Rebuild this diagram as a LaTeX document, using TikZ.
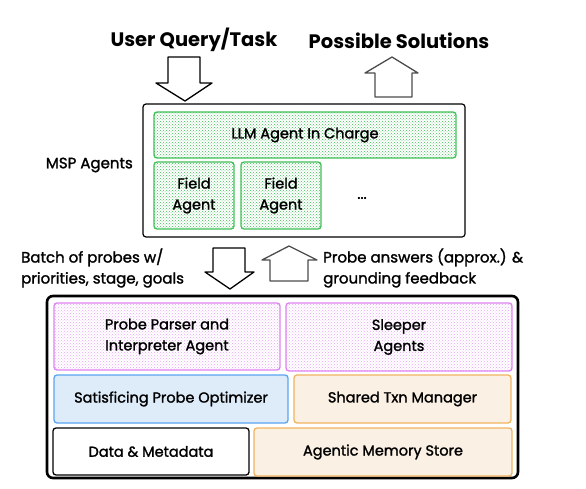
\documentclass[tikz,border=0pt]{standalone}
\usepackage{fontspec}
\setmainfont{Poppins}[UprightFeatures={FakeBold=1.5}]
\usetikzlibrary{patterns}
\usetikzlibrary{positioning}
\usepackage{xcolor}

\definecolor{agentgreen}{RGB}{64,192,87}
\definecolor{sleeppurple}{RGB}{222,130,240}
\definecolor{optblue}{RGB}{90,165,240}
\definecolor{optbluefill}{RGB}{222,235,249}
\definecolor{txnorange}{RGB}{240,180,95}
\definecolor{txnfill}{RGB}{250,240,228}

\tikzset{
 box/.style={draw, rounded corners=3pt, line width=1.3pt, align=center, inner sep=0pt,
   font=\fontsize{14.5}{21}\selectfont},
 greenbox/.style={box, draw=agentgreen, pattern=crosshatch dots, pattern color=agentgreen},
 purplebox/.style={box, draw=sleeppurple, pattern=crosshatch dots, pattern color=sleeppurple!70},
 bluebox/.style={box, draw=optblue, fill=optbluefill},
 orangebox/.style={box, draw=txnorange, fill=txnfill},
 plainbox/.style={box, draw=black},
 blockarrow/.style={line width=1.3pt, line join=round},
 label/.style={font=\fontsize{15}{21}\selectfont, align=left, inner sep=0pt},
 title/.style={font=\fontsize{19.5}{22}\selectfont\bfseries, inner sep=0pt}
}

\begin{document}
\begin{tikzpicture}[x=1pt, y=-1pt]
\useasboundingbox (0,0) rectangle (586,489);

% top titles and arrows
\node[title] (query) at (194,40) {User Query/Task};
\node[title] (solutions) at (399,41) {Possible Solutions};
\draw[blockarrow, black] (168,57) -- (200,57) -- (200,83) -- (212,83) -- (185,101)
  -- (156,83) -- (168,83) -- cycle;
\draw[blockarrow, black!70] (375,97) -- (375,73) -- (365,73) -- (392,57) -- (418,73)
  -- (412,73) -- (412,97) -- cycle;

% MSP agents
\node[box, draw=black, line width=1.2pt, minimum width=322pt, minimum height=133pt] (msp) at (304,170.5) {};
\node[label, anchor=east] (msplabel) at (133,165) {MSP Agents};
\node[greenbox, minimum width=302pt, minimum height=46pt] (llm) at (305,135) {LLM Agent In Charge};
\foreach \name/\cx in {fieldA/194, fieldB/281} {
 \node[greenbox, minimum width=80pt, minimum height=67pt] (\name) at (\cx,195.5) {Field\\Agent};
}
\node[label] (more) at (362,198) {...};

% middle arrows
\draw[blockarrow, black] (213,248) -- (245,248) -- (245,272) -- (254,272) -- (230,289)
  -- (205,272) -- (213,272) -- cycle;
\draw[blockarrow, black!70] (270,281) -- (270,260) -- (262,260) -- (289,246) -- (317,260)
  -- (308,260) -- (308,281) -- cycle;
\node[label, anchor=west] (batch) at (21,268) {Batch of probes w/\\priorities, stage, goals};
\node[label, anchor=west] (answers) at (323,268) {Probe answers (approx.) \&\\grounding feedback};

% data system
\node[box, draw=black, line width=2.6pt, rounded corners=6pt, minimum width=471pt, minimum height=182pt] (system) at (282.5,387) {};
\node[purplebox, minimum width=226pt, minimum height=67pt] (parser) at (167,336.5) {Probe Parser and\\Interpreter Agent};
\node[purplebox, minimum width=226pt, minimum height=68pt] (sleeper) at (399,337) {Sleeper\\Agents};
\node[bluebox, minimum width=234pt, minimum height=48pt] (optimizer) at (171,399) {Satisficing Probe Optimizer};
\node[orangebox, minimum width=217pt, minimum height=48pt] (txn) at (402.5,399) {Shared Txn Manager};
\node[plainbox, minimum width=196pt, minimum height=47pt] (data) at (151,451.5) {Data \& Metadata};
\node[orangebox, minimum width=258pt, minimum height=48pt] (memory) at (383,452) {Agentic Memory Store};
\end{tikzpicture}
\end{document}
